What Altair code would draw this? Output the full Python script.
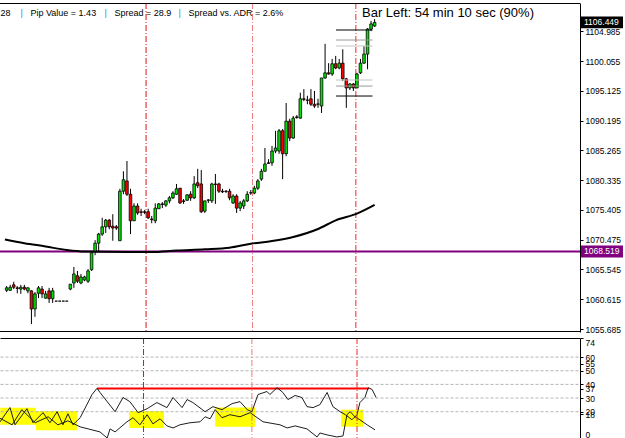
import altair as alt
import pandas as pd

FONT = "Liberation Sans"

# ---------------- price bars (OHLC) ----------------
bar_open = [1062.1, 1062.1, 1063.0, 1062.5, 1062.3, 1062.6, 1062.0, 1062.0, 1059.0, 1061.6,
            1062.3, 1060.8, 1062.0, 1060.7, 1060.3, 1060.3, 1060.3, 1060.3, 1062.3, 1063.3,
            1064.5, 1063.3, 1063.8, 1063.6, 1065.5, 1068.6, 1069.9, 1071.4, 1072.6, 1073.7,
            1072.7, 1072.6, 1070.3, 1078.5, 1080.2, 1078.0, 1073.6, 1076.05, 1075.1, 1075.1,
            1075.1, 1073.9, 1073.6, 1075.6, 1076.4, 1076.2, 1076.9, 1077.4, 1078.0, 1079.0,
            1076.9, 1077.0, 1078.0, 1077.4, 1079.9, 1079.7, 1075.2, 1077.0, 1076.9, 1079.7,
            1079.7, 1078.5, 1078.5, 1078.5, 1076.55, 1077.7, 1075.7, 1076.05, 1076.9, 1078.2,
            1078.2, 1079.0, 1080.5, 1081.8, 1083.2, 1083.2, 1085.15, 1085.15, 1088.5, 1084.7,
            1090.1, 1087.3, 1090.8, 1090.6, 1093.8, 1093.6, 1093.8, 1092.9, 1092.9, 1092.6,
            1097.25, 1098.1, 1097.9, 1099.6, 1098.9, 1099.7, 1097.1, 1095.6, 1096.25, 1095.6,
            1098.1, 1099.7, 1101.2, 1105.35, 1105.85]
bar_high = [1062.8, 1063.0, 1063.5, 1062.8, 1063.0, 1063.0, 1062.6, 1062.1, 1061.8, 1062.8,
            1062.8, 1062.0, 1062.5, 1062.5, 1060.3, 1060.3, 1060.3, 1060.3, 1063.1, 1065.95,
            1065.3, 1064.8, 1064.5, 1065.6, 1068.6, 1070.4, 1071.6, 1074.1, 1073.9, 1073.9,
            1074.7, 1072.9, 1078.9, 1081.8, 1083.5, 1078.9, 1076.5, 1076.5, 1075.6, 1075.4,
            1075.6, 1074.4, 1076.5, 1076.55, 1076.7, 1077.0, 1077.7, 1078.5, 1079.7, 1079.0,
            1077.2, 1078.0, 1078.5, 1081.0, 1082.2, 1082.0, 1076.9, 1077.2, 1079.9, 1081.35,
            1079.9, 1078.9, 1078.7, 1078.9, 1078.0, 1078.0, 1076.9, 1077.2, 1078.5, 1078.7,
            1079.4, 1080.5, 1082.2, 1085.65, 1083.8, 1086.0, 1088.5, 1088.8, 1088.8, 1093.1,
            1090.5, 1090.95, 1091.1, 1094.8, 1095.4, 1094.3, 1095.4, 1095.1, 1093.8, 1097.25,
            1102.9, 1099.7, 1100.4, 1100.9, 1100.4, 1102.0, 1097.25, 1096.4, 1096.4, 1098.1,
            1100.4, 1102.5, 1105.5, 1106.7, 1107.0]
bar_low = [1061.8, 1062.0, 1062.3, 1061.6, 1061.5, 1062.1, 1061.6, 1056.5, 1057.7, 1060.8,
           1060.8, 1060.7, 1060.0, 1060.0, 1060.3, 1060.3, 1060.3, 1060.3, 1062.1, 1062.5,
           1063.3, 1063.1, 1063.6, 1063.3, 1065.3, 1067.9, 1068.6, 1071.1, 1071.6, 1072.2,
           1070.3, 1072.1, 1070.3, 1078.0, 1077.7, 1071.4, 1073.6, 1074.6, 1074.4, 1074.7,
           1073.9, 1073.2, 1073.2, 1075.6, 1075.7, 1075.9, 1076.5, 1077.2, 1077.9, 1076.4,
           1076.4, 1076.9, 1076.9, 1077.2, 1079.0, 1074.9, 1074.9, 1076.55, 1076.55, 1076.4,
           1078.2, 1078.2, 1078.2, 1077.0, 1076.4, 1074.9, 1075.2, 1075.55, 1076.7, 1077.9,
           1078.0, 1078.7, 1080.2, 1081.8, 1083.0, 1082.7, 1084.8, 1084.7, 1080.5, 1084.3,
           1086.8, 1087.2, 1090.5, 1090.5, 1093.4, 1092.9, 1092.6, 1092.3, 1092.3, 1091.45,
           1097.1, 1097.8, 1097.6, 1098.7, 1098.7, 1096.75, 1092.3, 1095.25, 1095.1, 1095.6,
           1097.9, 1099.6, 1098.7, 1105.0, 1105.7]
bar_close = [1062.5, 1062.6, 1062.6, 1062.4, 1062.6, 1062.3, 1062.5, 1059.0, 1061.5, 1062.5,
             1061.5, 1061.5, 1060.7, 1062.0, 1060.3, 1060.3, 1060.3, 1060.3, 1063.1, 1064.8,
             1063.6, 1064.3, 1064.3, 1065.3, 1068.3, 1069.9, 1071.4, 1072.6, 1073.7, 1072.6,
             1072.4, 1072.4, 1078.5, 1080.4, 1078.0, 1073.6, 1076.05, 1074.9, 1075.0, 1075.0,
             1074.1, 1073.8, 1075.7, 1076.4, 1076.3, 1076.9, 1077.4, 1078.2, 1078.9, 1076.55,
             1076.8, 1077.9, 1077.4, 1079.7, 1079.4, 1075.1, 1076.9, 1077.05, 1079.7, 1079.6,
             1078.5, 1078.4, 1078.45, 1077.4, 1077.7, 1075.7, 1076.55, 1076.9, 1078.0, 1078.25,
             1079.0, 1080.2, 1081.8, 1083.0, 1083.1, 1085.15, 1085.65, 1088.5, 1084.7, 1090.1,
             1087.3, 1090.6, 1090.7, 1093.8, 1093.7, 1093.55, 1092.9, 1092.6, 1092.95, 1097.25,
             1098.1, 1097.9, 1099.6, 1098.9, 1099.7, 1097.1, 1095.6, 1096.25, 1095.6, 1097.9,
             1099.7, 1101.2, 1105.35, 1106.2, 1106.45]

# moving average (bar index, price)
ma_index = [-0.5, 5, 11, 17, 22, 34, 41, 48, 56, 63, 69, 75, 81, 88, 93, 99, 104]
ma_value = [1070.5, 1069.9, 1069.35, 1068.76, 1068.5, 1068.43, 1068.43, 1068.68, 1068.88,
            1069.14, 1069.8, 1070.25, 1070.92, 1072.24, 1073.68, 1074.78, 1076.22]

# day separators (bar index)
day_breaks = [39.4, 69.5, 98.7]
day_break_colors = ["#e41010", "#f07c7c", "#f02828"]

level_price = 1068.519
last_price = 1106.449
price_ticks = [1055.685, 1060.615, 1065.545, 1070.475, 1075.405, 1080.335,
               1085.265, 1090.195, 1095.125, 1100.055, 1104.985]

side_levels = [1105.19, 1103.53, 1102.54, 1096.91, 1095.91, 1094.26]
side_level_colors = ["#000000", "#9a9a9a", "#c4c4c4", "#c4c4c4", "#9a9a9a", "#000000"]
side_level_from = 93.1
side_level_to = 103.4

header_parts = ["28", "|", "Pip Value = 1.43", "|", "Spread = 28.9", "|", "Spread vs. ADR = 2.6%"]
bar_left_text = "Bar Left: 54 min 10 sec (90%)"

# ---------------- indicator panel ----------------
ind_a_index = [-0.5, 2.3, 3.7, 7.0, 8.7, 11.5, 13.4, 15.4, 17.0, 18.4, 19.8, 21.8, 25.1, 26.5,
               27.3, 29.3, 31.5, 33.7, 35.6, 37.9, 40.4, 43.1, 45.9, 47.6, 50.1, 51.5, 53.1,
               56.5, 58.7, 61.2, 64.0, 66.2, 68.2, 69.5, 71.2, 73.7, 74.5, 76.5, 78.1, 79.5,
               81.5, 83.4, 84.8, 86.5, 88.4, 90.4, 92.0, 94.0, 95.5, 97.3, 98.7, 99.5, 100.9,
               101.8, 102.9, 104.0]
ind_a_value = [12.5, 23.0, 10.4, 22.2, 11.9, 19.3, 11.9, 20.0, 10.4, 18.5, 10.4, 15.6, 32.6, 37.2,
               34.1, 27.4, 20.0, 30.4, 27.4, 19.3, 22.2, 26.7, 23.0, 30.4, 23.0, 28.9, 26.7,
               20.0, 23.7, 21.5, 25.9, 27.4, 21.5, 20.0, 32.6, 34.8, 32.6, 37.6, 34.1, 28.9,
               31.9, 30.4, 23.7, 23.0, 25.2, 34.1, 23.7, 20.0, 17.8, 14.1, 17.8, 26.7, 30.4,
               37.6, 36.3, 30.4]
ind_b_index = [-0.5, 2.9, 5.6, 9.3, 12.9, 15.6, 18.4, 21.8, 27.3, 29.3, 30.1, 31.5, 34.8, 36.5,
               38.4, 40.4, 42.0, 44.0, 45.9, 47.6, 49.5, 52.3, 55.1, 56.5, 57.9, 59.3, 61.2,
               63.4, 66.2, 69.0, 72.6, 77.3, 79.3, 81.5, 84.8, 87.6, 88.4, 90.4, 93.1, 94.8,
               95.9, 96.8, 98.1, 99.5, 101.5, 103.7]
ind_b_value = [15.2, 10.4, 21.5, 11.9, 16.3, 10.4, 13.3, 8.9, 5.2, 0.7, 7.4, 5.2, 12.6, 15.6,
               10.4, 17.8, 11.1, 14.8, 9.6, 8.1, 10.4, 11.9, 12.6, 16.3, 14.8, 21.5, 15.6,
               17.8, 16.3, 19.3, 12.6, 10.4, 8.1, 9.6, 7.4, 1.5, 4.4, 3.0, 1.5, 2.2,
               17.8, 20.0, 16.3, 14.1, 10.4, 6.7]
ind_ticks = [0, 18, 20, 30, 37, 40, 50, 55, 60, 74]
ind_grid = [20, 30, 40, 50, 60]
ind_red_level = 37
ind_red_from = 26.5
ind_red_to = 102.0
yellow_from = [-0.4, 9.5, 35.4, 59.3, 94.3]
yellow_to = [9.5, 20.9, 45.1, 70.4, 100.4]
yellow_low = [10.5, 6.5, 8.0, 9.0, 9.0]
yellow_high = [22.9, 20.5, 20.5, 23.0, 21.5]

# ---------------- layout ----------------
W = 580
H_MAIN = 329
H_SUB = 101

xs = alt.Scale(domain=[-0.47, 160.64], nice=False, zero=False)
ys = alt.Scale(domain=[1055.19, 1109.66], nice=False, zero=False)
ys_sub = alt.Scale(domain=[0, 74], nice=False, zero=False)

main_axis = alt.Axis(orient="right", values=price_ticks, format=".3f", title=None, grid=False,
                     tickSize=3, tickColor="black", domainColor="black", labelFont=FONT,
                     labelFontSize=8.5, labelColor="black", labelPadding=2, labelOverlap=False,
                     labelBound=False)
sub_axis = alt.Axis(orient="right", values=ind_ticks, format="d", title=None, grid=False,
                    tickSize=3, tickColor="black", domainColor="black", labelFont=FONT,
                    labelFontSize=8.5, labelColor="black", labelPadding=2, labelOverlap=False,
                    labelFlush=True, labelBound=False)


def X(f):
    return alt.X(f, type="quantitative", scale=xs, axis=None)


def Y(f):
    return alt.Y(f, type="quantitative", scale=ys, axis=main_axis)


def YS(f):
    return alt.Y(f, type="quantitative", scale=ys_sub, axis=sub_axis)


def break_layers(h):
    out = []
    for b, col in zip(day_breaks, day_break_colors):
        out.append(alt.Chart(pd.DataFrame({"i": [b]})).mark_rule(
            strokeDash=[6, 2, 1, 2], strokeWidth=1, color=col).encode(
            x=X("i"), y=alt.value(0), y2=alt.value(h)))
    return out


bars = pd.DataFrame({"i": list(range(len(bar_open))), "open": bar_open, "high": bar_high,
                     "low": bar_low, "close": bar_close})
ma_df = pd.DataFrame({"i": ma_index, "p": ma_value})
one = pd.DataFrame({"k": [0]})

purple = alt.Chart(pd.DataFrame({"p": [level_price]})).mark_rule(
    color="#800080", strokeWidth=2, clip=True).encode(y=Y("p"))

ma_line = alt.Chart(ma_df).mark_line(color="black", strokeWidth=2, interpolate="monotone",
                                     clip=True).encode(x=X("i"), y=Y("p"))

wicks = alt.Chart(bars).mark_rule(color="black", strokeWidth=1).encode(
    x=X("i"), y=Y("high"), y2="low")

bodies = alt.Chart(bars).transform_calculate(
    dir="datum.close >= datum.open ? 'up' : 'down'"
).mark_bar(size=2.6, stroke="black", strokeWidth=0.8, clip=True).encode(
    x=X("i"), y=Y("open"), y2="close",
    color=alt.Color("dir:N", scale=alt.Scale(domain=["up", "down"], range=["#00e400", "#ff0000"]),
                    legend=None))

side_layers = []
for p, col in zip(side_levels, side_level_colors):
    side_layers.append(
        alt.Chart(pd.DataFrame({"p": [p], "a": [side_level_from], "b": [side_level_to]}))
        .mark_rule(strokeWidth=1, color=col).encode(x=X("a"), x2="b", y=Y("p")))

box_layers = []
for p, col in zip([last_price, level_price], ["#000000", "#800080"]):
    bdf = pd.DataFrame({"p": [p]})
    box_layers.append(alt.Chart(bdf).transform_calculate(
        lo="datum.p - 0.98", hi="datum.p + 0.98"
    ).mark_rect(color=col).encode(
        x=alt.value(W + 1), x2=alt.value(W + 43), y=Y("lo"), y2="hi"))
    box_layers.append(alt.Chart(bdf).mark_text(
        align="left", baseline="middle", color="white", font=FONT, fontSize=8.5).encode(
        x=alt.value(W + 4), y=Y("p"), text=alt.Text("p:Q", format=".3f")))

top_border = alt.Chart(one).mark_rule(color="black", strokeWidth=1, clip=True).encode(
    x=alt.value(0), x2=alt.value(W), y=alt.value(0.5))
bottom_border = alt.Chart(one).mark_rule(color="black", strokeWidth=1, clip=True).encode(
    x=alt.value(0), x2=alt.value(W), y=alt.value(H_MAIN - 0.5))

header_x = [0, 20, 30, 104, 114, 178, 188]
header_layers = []
for part, px in zip(header_parts, header_x):
    col = "#2a8ad8" if part == "|" else "black"
    header_layers.append(
        alt.Chart(pd.DataFrame({"t": [part]})).mark_text(
            align="left", baseline="alphabetic", font=FONT, fontSize=9, color=col).encode(
            x=alt.value(px + 0.5), y=alt.value(13), text="t:N"))

bar_left = alt.Chart(pd.DataFrame({"t": [bar_left_text]})).mark_text(
    align="left", baseline="alphabetic", font=FONT, fontSize=13, color="black").encode(
    x=alt.value(362), y=alt.value(14), text="t:N")

main = alt.layer(
    *break_layers(H_MAIN), purple, ma_line, wicks, bodies, *side_layers, *box_layers,
    top_border, bottom_border, bar_left, *header_layers
).properties(width=W, height=H_MAIN)

# ---------------- indicator panel layers ----------------
yellow_df = pd.DataFrame({"a": yellow_from, "b": yellow_to, "lo": yellow_low, "hi": yellow_high})
yellow = alt.Chart(yellow_df).mark_rect(color="#ffff00", clip=True).encode(
    x=X("a"), x2="b", y=YS("lo"), y2="hi")

grid = alt.Chart(pd.DataFrame({"g": ind_grid})).mark_rule(
    color="#b4b4b4", strokeDash=[3, 2], strokeWidth=1).encode(
    x=alt.value(0.5), x2=alt.value(W), y=YS("g"))

red_level = alt.Chart(pd.DataFrame({"v": [ind_red_level], "a": [ind_red_from], "b": [ind_red_to]})
                      ).mark_rule(color="#ff0000", strokeWidth=2).encode(
    x=X("a"), x2="b", y=YS("v"))

line_a = alt.Chart(pd.DataFrame({"i": ind_a_index, "v": ind_a_value})).mark_line(
    color="#1e1e1e", strokeWidth=1, clip=True).encode(x=X("i"), y=YS("v"))
line_b = alt.Chart(pd.DataFrame({"i": ind_b_index, "v": ind_b_value})).mark_line(
    color="#1e1e1e", strokeWidth=1, clip=True).encode(x=X("i"), y=YS("v"))

sub_top = alt.Chart(one).mark_rule(color="black", strokeWidth=1).encode(
    x=alt.value(0.5), x2=alt.value(W), y=alt.value(0.5))
sub_bottom = alt.Chart(one).mark_rule(color="black", strokeWidth=1).encode(
    x=alt.value(0.5), x2=alt.value(W), y=alt.value(H_SUB - 0.5))

sub = alt.layer(
    yellow, grid, red_level, line_a, line_b, *break_layers(H_SUB), sub_top, sub_bottom
).properties(width=W, height=H_SUB)

chart = alt.vconcat(main, sub, spacing=3).properties(
    padding={"left": 0, "top": 2, "right": 0, "bottom": 0},
    background="white"
).configure_view(stroke=None)

chart.save("out.html", embed_options={"renderer": "svg", "actions": False})
